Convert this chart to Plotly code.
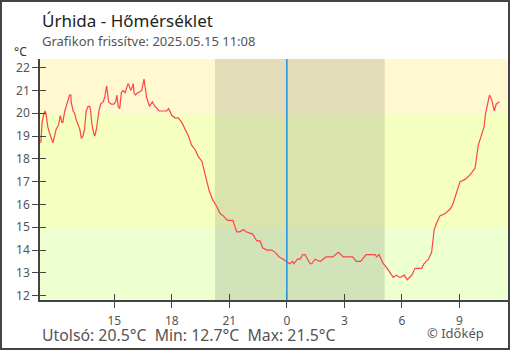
import plotly.graph_objects as go
from datetime import datetime, timedelta

# ---- data ----
clock = ["11:10","11:14","11:20","11:24","11:27","11:32","11:38","11:43","11:48","11:53","11:58",
         "12:06","12:11","12:16","12:19","12:25","12:30","12:35","12:40","12:44","12:45","12:51","12:56",
         "13:01","13:06","13:12","13:17","13:22","13:27","13:32","13:38","13:43","13:46","13:50","13:56","13:59",
         "14:04","14:07","14:12","14:17","14:25","14:30","14:33","14:36","14:38","14:42","14:51","14:59",
         "15:04","15:08","15:12","15:17","15:22","15:27","15:34","15:40","15:43","15:47","15:51","15:55","15:59",
         "16:02","16:06","16:12","16:15","16:26","16:33","16:41","16:50","16:59",
         "17:07","17:21","17:44","17:50","18:00","18:10","18:20","18:31","18:41","18:52",
         "19:02","19:13","19:23","19:34","19:41","19:49","19:57","20:08","20:21","20:31","20:41","20:54",
         "21:11","21:23","21:33","21:44","21:52","22:13","22:26","22:36","22:44","22:57",
         "23:13","23:23","23:36","23:49","23:59",
         "00:08","00:18","00:22","00:33","00:41","00:50","00:57","01:13","01:18","01:28","01:44",
         "02:03","02:24","02:41","02:57","03:26","03:37","03:51","04:08","04:36","04:41","04:48","04:55",
         "05:02","05:14","05:23","05:33","05:42","05:54","06:07","06:17","06:31","06:41","06:55",
         "07:02","07:09","07:23","07:33","07:37","07:41","07:49","07:59","08:15","08:31","08:39","08:46","08:54",
         "09:02","09:18","09:33","09:49","09:54","09:59","10:08","10:17","10:22","10:27","10:34","10:41","10:49","10:55",
         "11:02","11:05"]
temps = [18.7,19.6,20.0,20.1,19.9,19.4,19.1,18.9,18.7,19.0,19.3,
         19.5,19.9,19.6,19.6,20.1,20.3,20.6,20.8,20.8,20.5,20.1,20.0,
         19.7,19.5,19.3,18.9,19.0,19.3,20.1,20.3,20.3,20.1,19.5,19.1,19.0,
         19.3,19.7,20.1,20.4,20.5,20.7,21.0,21.2,21.0,20.5,20.4,20.4,
         20.5,20.8,20.3,20.2,20.9,21.0,20.9,21.2,21.3,21.2,21.0,21.1,21.3,
         20.9,20.8,20.9,20.9,21.0,21.5,20.7,20.3,20.5,
         20.3,20.1,20.1,20.2,19.9,19.8,19.8,19.6,19.3,19.0,
         18.6,18.4,18.1,17.9,17.5,17.1,16.6,16.2,15.9,15.6,15.5,15.3,
         15.3,14.8,14.8,14.9,14.8,14.7,14.4,14.4,14.1,14.0,
         14.0,13.9,13.7,13.6,13.5,
         13.4,13.5,13.4,13.6,13.6,13.8,13.8,13.4,13.4,13.6,13.5,
         13.7,13.7,13.9,13.7,13.7,13.5,13.5,13.8,13.8,13.7,13.8,13.6,
         13.4,13.2,13.0,12.8,12.9,12.8,12.9,12.7,12.9,13.2,13.2,
         13.2,13.4,13.6,13.9,14.4,14.9,15.2,15.5,15.6,15.8,16.0,16.3,16.6,
         17.0,17.1,17.3,17.6,18.1,18.6,19.0,19.4,20.0,20.4,20.8,20.6,20.1,20.4,
         20.5,20.5]

start_day = "2025-05-14"
x_range = ["2025-05-14 11:07:30", "2025-05-15 11:32"]
night = ["2025-05-14 20:15", "2025-05-15 05:06"]
midnight = "2025-05-15 00:00"
tick_times = ["2025-05-14 15:00","2025-05-14 18:00","2025-05-14 21:00","2025-05-15 00:00",
              "2025-05-15 03:00","2025-05-15 06:00","2025-05-15 09:00"]
tick_labels = ["15","18","21","0","3","6","9"]
y_ticks = list(range(12, 23))
y_range = [11.81, 22.38]
bands = [(y_range[0], 15, "#eeffd0"), (15, 20, "#f5ffc0"), (20, y_range[1], "#fff8d0")]

title = "Úrhida - Hőmérséklet"
subtitle = "Grafikon frissítve: 2025.05.15 11:08"
summary = "Utolsó: 20.5°C\u00a0 Min: 12.7°C\u00a0 Max: 21.5°C"
credit = "© Időkép"

# build timestamps
times = []
day = datetime.strptime(start_day, "%Y-%m-%d")
prev = None
for c in clock:
    h, m = map(int, c.split(":"))
    if prev is not None and (h, m) < prev:
        day += timedelta(days=1)
    prev = (h, m)
    times.append(day.replace(hour=h, minute=m))

AX = "#444444"
TXT = "#555555"
FONT = "Noto Sans"

fig = go.Figure()
fig.add_trace(go.Scatter(x=times, y=temps, mode="lines",
                         line=dict(color="#ff4444", width=1.2),
                         showlegend=False, hoverinfo="skip"))
# invisible trace for overlay axis (inside ticks)
fig.add_trace(go.Scatter(x=times, y=temps, mode="lines", xaxis="x2", yaxis="y2",
                         line=dict(color="rgba(0,0,0,0)", width=0),
                         showlegend=False, hoverinfo="skip"))

shapes = []
for y0, y1, col in bands:
    shapes.append(dict(type="rect", xref="paper", yref="y", x0=0, x1=1, y0=y0, y1=y1,
                       fillcolor=col, line=dict(width=0), layer="below"))
shapes.append(dict(type="rect", xref="x", yref="paper", x0=night[0], x1=night[1], y0=0, y1=1,
                   fillcolor="rgba(0,0,0,0.11)", line=dict(width=0), layer="below"))
shapes.append(dict(type="line", xref="x", yref="paper", x0=midnight, x1=midnight, y0=0, y1=1,
                   line=dict(color="#1e90e6", width=1.5)))
# outer frame
shapes.append(dict(type="rect", xref="paper", yref="paper",
                   x0=-39/468, x1=469/468, y0=-49/241, y1=299/241,
                   line=dict(color="#444444", width=2), fillcolor="rgba(0,0,0,0)"))

annotations = [
    dict(text=title, xref="paper", yref="paper", x=0, y=1.158, xanchor="left", yanchor="middle",
         showarrow=False, font=dict(family=FONT, size=17, color="#222222")),
    dict(text=subtitle, xref="paper", yref="paper", x=0, y=1.075, xanchor="left", yanchor="middle",
         showarrow=False, font=dict(family=FONT, size=13, color=TXT)),
    dict(text="°C", xref="paper", yref="paper", x=-0.0598, y=1.033, xanchor="left", yanchor="middle",
         showarrow=False, font=dict(family=FONT, size=12, color="#333333")),
    dict(text=summary, xref="paper", yref="paper", x=0, y=-0.145, xanchor="left", yanchor="middle",
         showarrow=False, font=dict(family=FONT, size=15.8, color=TXT)),
    dict(text=credit, xref="paper", yref="paper", x=0.8226, y=-0.139, xanchor="left", yanchor="middle",
         showarrow=False, font=dict(family=FONT, size=13, color=TXT)),
]

common_x = dict(type="date", range=x_range, tickvals=tick_times, showgrid=False, zeroline=False,
                ticklen=6, tickcolor=AX, tickwidth=1, fixedrange=True)
common_y = dict(range=y_range, tickvals=y_ticks, showgrid=False, zeroline=False,
                ticklen=6, tickcolor=AX, tickwidth=1, fixedrange=True)

fig.update_layout(
    width=510, height=350,
    margin=dict(l=40, r=2, t=59, b=50),
    paper_bgcolor="white", plot_bgcolor="white",
    xaxis=dict(**common_x, ticktext=tick_labels, ticks="outside", ticklabelstandoff=3,
               showline=True, linecolor=AX, linewidth=1.5,
               tickfont=dict(family=FONT, size=12, color=TXT)),
    yaxis=dict(**common_y, ticks="outside", showline=True, linecolor=AX, linewidth=1.5,
               tickfont=dict(family=FONT, size=12, color=TXT)),
    xaxis2=dict(**common_x, overlaying="x", anchor="y2", ticks="inside", showticklabels=False,
                showline=False),
    yaxis2=dict(**common_y, overlaying="y", anchor="x2", ticks="inside", showticklabels=False,
                showline=False),
    shapes=shapes, annotations=annotations, showlegend=False,
)

fig.write_html("out.html")
